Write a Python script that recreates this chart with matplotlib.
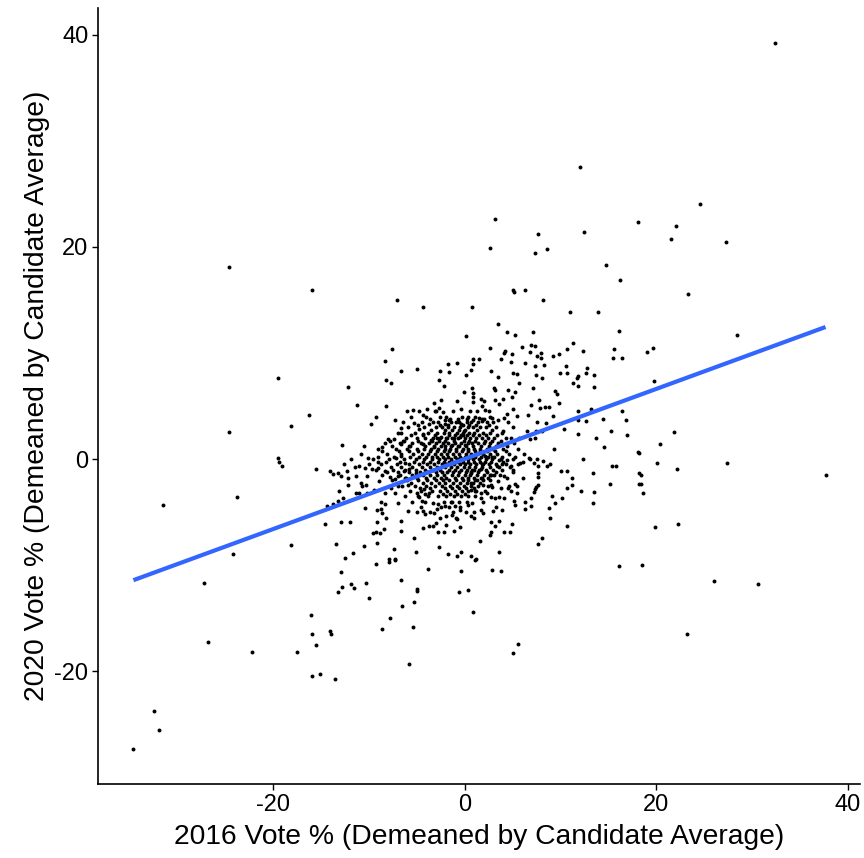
import numpy as np
import matplotlib
matplotlib.use("Agg")
import matplotlib.pyplot as plt
from matplotlib import font_manager

# points, grouped by area of the plot
upper_pts = [(-24.6, 18.1), (-15.9, 15.9), (-7.1, 15.0), (-4.3, 14.3), (0.8, 14.3), (0.1, 11.6),
             (32.4, 39.2), (12.1, 27.5), (24.6, 24.0), (3.2, 22.6), (18.1, 22.3), (22.1, 22.0),
             (21.6, 20.7), (27.3, 20.5), (7.7, 21.2), (12.5, 21.4), (2.7, 19.9), (7.3, 19.4),
             (8.6, 19.8), (14.8, 18.3), (16.2, 16.9), (5.1, 15.9), (5.2, 15.7), (6.3, 15.9),
             (8.2, 15.0), (23.3, 15.6), (11.0, 13.9), (13.9, 13.9), (3.5, 12.7), (4.4, 12.0),
             (5.3, 11.7), (7.1, 12.0), (16.1, 12.1), (28.4, 11.7)]

left_pts = [(-19.5, 7.6), (-18.1, 3.1), (-24.6, 2.6), (-19.5, 0.1), (-19.4, -0.3), (-19.1, -0.6),
            (-23.75, -3.6), (-31.5, -4.3), (-18.1, -8.1), (-24.2, -8.9), (-27.2, -11.7),
            (-26.8, -17.2), (-22.2, -18.2), (-17.5, -18.2), (-32.4, -23.7), (-31.9, -25.5),
            (-34.6, -27.3)]

right_pts = [(19.0, 10.1), (19.7, 10.5), (19.8, 7.4), (21.9, 2.6), (20.4, 1.4), (18.2, 0.6),
             (20.1, -0.4), (22.2, -0.9), (27.4, -0.4), (37.7, -1.5), (18.4, -1.5), (18.4, -2.3),
             (18.6, -3.2), (19.9, -6.4), (22.3, -6.1), (18.5, -10.0), (26.0, -11.5),
             (30.6, -11.8), (23.2, -16.5)]

lower_pts = [(16.1, -10.1), (-12.95, -10.6), (-9.3, -9.9), (-7.9, -9.7), (-7.3, -9.5), (-3.8, -10.3),
             (-0.4, -10.5), (1.1, -9.5), (2.9, -10.4), (3.8, -10.5), (-12.8, -12.0), (-11.9, -11.8),
             (-11.6, -12.1), (-13.2, -12.5), (-10.3, -11.7), (-10.0, -13.1), (-6.6, -11.4),
             (-5.0, -12.2), (-5.0, -12.4), (-0.6, -12.5), (0.3, -12.3), (-6.5, -13.8), (-5.3, -13.5),
             (0.9, -14.4), (-16.1, -14.7), (-7.8, -15.0), (-15.9, -16.5), (-15.5, -17.5),
             (-14.1, -16.2), (-14.0, -16.5), (-8.6, -16.0), (-5.4, -15.8), (5.6, -17.4), (5.1, -18.3),
             (-5.8, -19.3), (-15.9, -20.4), (-15.1, -20.2), (-13.5, -20.7)]

ul_pts = [(-7.6, 10.4), (-8.3, 9.2), (-1.7, 9.0), (-0.8, 9.1), (-6.6, 8.3), (-5.0, 8.5), (-2.6, 8.3),
          (-1.6, 8.2), (0.1, 7.9), (-8.2, 7.5), (-7.7, 7.2), (-2.7, 7.5), (-2.2, 6.9), (-12.2, 6.8),
          (-0.1, 6.3), (-16.3, 4.2), (-11.2, 5.1), (-8.2, 5.0), (-3.2, 5.3), (-2.5, 5.6), (-0.8, 5.5),
          (-5.4, 4.6), (-3.9, 4.7), (-2.7, 4.8), (-2.3, 4.4), (-0.4, 4.7), (-4.3, 4.2), (-3.0, 4.5),
          (-9.3, 4.0), (-7.3, 3.7), (-5.3, 3.4), (-3.7, 3.3), (-2.1, 3.7), (-2.0, 3.3), (-1.6, 3.7),
          (-0.6, 3.5), (-9.8, 3.3), (-6.7, 2.9), (-4.8, 2.8), (-1.7, 3.0), (-0.4, 3.3), (-6.6, 2.5),
          (-4.4, 2.4), (-0.1, 2.7), (-8.0, 1.9), (-7.4, 1.9), (-6.3, 1.7), (-7.8, 1.7), (-3.5, 1.8),
          (-2.9, 2.0), (-2.5, 2.1), (-1.8, 2.0), (-1.1, 1.95), (-0.5, 2.05), (-0.2, 2.3), (-12.8, 1.3),
          (-10.5, 1.25), (-8.6, 1.1), (-6.6, 1.4), (-5.7, 1.2), (-4.4, 1.4), (-3.2, 1.1), (-2.1, 1.2),
          (-1.35, 1.3), (-0.7, 1.2), (0.0, 1.3)]

ur_pts = [(2.7, 10.5), (6.0, 10.6), (6.9, 10.8), (7.4, 10.7), (4.2, 10.2), (4.1, 10.0), (4.9, 9.9),
          (6.8, 10.1), (7.6, 9.75), (8.0, 9.96), (8.0, 9.56), (9.2, 9.75), (9.9, 9.9), (10.7, 10.4),
          (11.3, 10.9), (12.4, 10.2), (15.6, 10.4), (15.5, 9.56), (16.4, 9.56), (0.9, 9.4), (1.5, 9.4),
          (0.9, 9.0), (3.8, 9.4), (4.8, 9.15), (6.35, 9.06), (7.3, 8.8), (8.3, 8.9), (10.6, 8.8),
          (12.8, 8.6), (0.7, 8.4), (2.8, 8.3), (5.1, 8.1), (5.5, 8.0), (7.5, 7.95), (10.0, 8.1),
          (10.7, 8.1), (11.8, 7.8), (12.7, 8.1), (13.5, 7.9), (3.5, 7.7), (8.05, 7.6), (11.7, 7.6),
          (5.7, 7.2), (11.35, 7.2), (11.8, 6.9), (0.8, 6.7), (13.5, 6.8), (3.05, 6.7), (3.2, 6.5),
          (4.5, 6.5), (5.3, 6.3), (7.1, 6.7), (9.4, 6.4), (9.7, 6.1), (0.9, 6.2), (0.9, 5.9), (1.7, 5.7),
          (2.0, 5.5), (3.2, 5.6), (4.0, 5.7), (4.9, 5.85), (3.6, 5.2), (7.8, 5.6), (6.9, 5.1),
          (9.9, 5.25), (0.9, 5.35), (7.9, 4.8), (8.4, 4.9), (8.85, 4.9), (1.8, 5.0), (2.1, 4.6),
          (2.5, 4.5), (4.4, 4.3), (5.0, 4.75), (11.8, 4.5), (13.2, 4.7), (16.4, 4.5), (5.5, 4.1),
          (6.6, 4.15), (9.2, 4.1), (1.5, 3.9), (2.05, 3.8), (2.9, 3.9), (4.1, 3.9), (12.7, 3.6),
          (14.5, 3.8), (16.9, 3.7), (0.9, 3.7), (1.8, 3.55), (2.3, 3.5), (3.0, 3.5), (3.5, 3.7),
          (4.5, 3.5), (7.6, 3.5), (8.5, 3.4), (11.8, 3.7), (10.4, 2.8), (15.3, 2.7), (13.75, 1.95),
          (14.6, 1.1), (17.0, 2.3), (11.8, 2.4), (9.3, 1.0), (6.5, 2.7), (7.5, 2.7), (8.1, 2.7),
          (4.8, 2.0), (5.7, 1.95), (6.8, 1.9), (7.3, 2.0), (4.0, 2.7), (5.0, 3.0)]

ll_pts = [(-15.5, -0.9), (-14.1, -1.1), (-13.8, -1.4), (-13.2, -1.3), (-12.9, -1.6), (-12.3, -1.1),
          (-11.5, -0.7), (-11.0, -0.6), (-10.4, -0.8), (-10.0, -0.5), (-9.7, -0.9), (-10.1, 0.1),
          (-9.1, -0.3), (-9.1, -0.8), (-12.2, -1.8), (-11.3, -1.6), (-10.2, -1.6), (-10.8, -2.2),
          (-10.3, -2.4), (-10.7, -2.55), (-12.2, -2.4), (-13.1, -3.0), (-12.7, -3.7), (-13.2, -3.9),
          (-13.75, -4.2), (-14.4, -4.4), (-11.4, -3.2), (-11.0, -3.2), (-10.2, -3.2), (-9.5, -2.9),
          (-8.9, -2.1), (-8.3, -1.1), (-7.8, -1.7), (-7.3, -1.9), (-7.0, -1.6), (-7.15, 0.07),
          (-6.6, 0.3), (-6.2, -0.35), (-6.35, -1.1), (-5.8, -0.9), (-5.1, -1.35), (-6.1, -1.8),
          (-7.0, -2.55), (-7.7, -2.7), (-5.9, -2.45), (-7.3, -3.2), (-8.3, -3.2), (-8.7, -4.0),
          (-8.3, -4.2), (-7.0, -4.1), (-10.4, -4.6), (-9.2, -4.8), (-8.6, -5.1), (-8.2, -5.5),
          (-8.7, -4.65), (-5.9, -4.9), (-6.7, -5.8), (-5.0, -3.2), (-4.8, -3.6), (-4.5, -3.9),
          (-4.2, -2.8), (-3.7, -3.2), (-3.3, -4.1), (-2.8, -4.2), (-2.9, -4.65), (-4.3, -4.9),
          (-3.2, -5.1), (-4.1, -5.2), (-2.1, -4.4), (-1.4, -4.0), (-1.0, -4.4), (-0.45, -4.8),
          (-1.3, -5.3), (-0.8, -5.6), (-1.9, -5.4), (-14.6, -6.1), (-12.9, -5.9), (-12.0, -5.9),
          (-9.2, -5.9), (-6.7, -6.8), (-9.55, -7.0), (-9.3, -6.9), (-8.4, -6.6), (-8.8, -6.95),
          (-5.3, -7.45), (-4.4, -6.5), (-3.7, -6.3), (-3.3, -6.3), (-2.95, -6.0), (-2.8, -6.9),
          (-2.2, -6.9), (-1.95, -6.2), (-1.15, -6.8), (-0.5, -6.4), (-9.2, -7.9), (-13.4, -8.0),
          (-10.5, -8.2), (-7.4, -8.5), (-5.1, -8.7), (-2.7, -8.3), (-1.7, -8.9), (-0.8, -9.1),
          (-0.4, -8.7), (-12.5, -9.3), (-11.7, -8.8), (-7.9, -9.4), (-7.3, -9.4)]

lr_pts = [(12.4, 0.0), (15.4, -0.6), (15.8, -0.6), (13.4, -1.3), (10.1, -1.1), (10.65, -1.1),
          (11.2, -1.8), (10.65, -2.7), (11.2, -2.45), (15.2, -2.3), (12.2, -3.0), (13.5, -3.1),
          (10.2, -3.65), (9.1, -3.5), (9.4, -4.15), (13.4, -4.15), (8.85, -4.6), (8.95, -5.5),
          (10.65, -6.3), (7.6, 0.06), (8.2, -0.2), (8.6, -0.66), (8.9, -0.5), (7.2, -0.4), (7.7, -0.66),
          (7.7, -1.3), (7.7, -1.7), (7.7, -2.4), (7.5, -2.6), (7.3, -2.8), (7.2, -3.1), (6.9, -3.65),
          (6.9, -4.4), (6.3, -4.0), (6.3, -4.65), (5.8, -0.4), (6.1, -1.8), (5.3, -2.3), (5.5, -2.5),
          (5.1, -1.25), (4.8, -0.6), (4.4, -0.1), (3.9, -0.5), (3.6, -0.1), (3.4, -0.6), (2.9, 0.2),
          (2.1, 0.3), (1.9, -0.5), (1.7, -0.9), (1.0, -1.0), (0.65, -1.35), (3.1, -1.5), (2.6, -1.5),
          (4.1, -1.6), (4.4, -1.8), (3.5, -2.1), (1.8, -1.8), (1.3, -2.0), (0.65, -2.2), (1.9, -2.4),
          (2.75, -2.4), (2.9, -2.6), (3.8, -2.7), (4.65, -2.5), (4.55, -2.7), (4.8, -3.0), (5.5, -3.2),
          (5.2, -3.9), (5.3, -4.3), (4.1, -3.65), (3.6, -3.55), (3.2, -3.7), (2.75, -3.55), (2.3, -3.2),
          (1.7, -3.2), (1.1, -3.0), (0.65, -2.9), (1.7, -3.7), (1.9, -4.0), (0.8, -4.1), (0.4, -4.3),
          (1.0, -5.0), (0.65, -5.35), (1.0, -5.5), (1.7, -4.8), (1.9, -5.1), (3.0, -4.9), (3.3, -4.5),
          (3.9, -4.75), (2.8, -5.9), (3.2, -6.3), (3.6, -5.85), (2.75, -6.85), (2.6, -7.1), (4.1, -6.9),
          (4.75, -6.9), (4.9, -6.1), (1.6, -7.7), (3.6, -8.7), (8.1, -7.4), (7.7, -7.95), (0.65, -9.15),
          (1.15, -9.4), (18.2, -1.3), (18.2, -2.3), (18.1, 0.7), (6.7, 0.07)]

# dense core, too crowded to read one by one: rows of 2020 value with their 2016 values
core_rows = [
    (4.5, [-6.0, -4.8, -3.1, -1.2, 0.6, 1.3]),
    (4.0, [-5.6, -4.0, -2.6, -1.9, -0.3, 0.4, 1.1, 2.6]),
    (3.75, [-3.6, -1.5, -0.7, 0.2, 1.8]),
    (3.5, [-6.4, -4.5, -3.3, -2.8, -1.4, -0.9, 0.2, 0.7, 1.4]),
    (3.2, [-4.9, -2.6, -1.7, -0.2, 0.5, 1.2, 2.5]),
    (3.0, [-5.9, -4.2, -3.0, -2.4, -1.1, -0.5, 0.3, 0.9, 1.6, 2.2, 3.3]),
    (2.75, [-3.5, -2.0, -1.3, -0.6, 0.0, 1.3, 2.9]),
    (2.5, [-7.0, -5.2, -3.8, -2.9, -2.2, -1.6, -0.8, -0.2, 0.5, 1.0, 1.9, 2.6, 3.9]),
    (2.25, [-5.6, -4.4, -3.1, -1.6, -1.0, -0.4, 0.2, 0.9, 1.5, 2.2, 3.4]),
    (2.0, [-6.1, -5.0, -4.1, -3.3, -2.6, -1.9, -1.3, -0.7, 0.0, 0.6, 1.2, 1.8, 2.4, 3.1, 4.3]),
    (1.75, [-6.4, -4.9, -3.4, -2.7, -2.0, -1.1, -0.1, 0.5, 1.1, 2.1, 2.9, 3.8]),
    (1.5, [-8.3, -6.8, -5.5, -4.6, -3.7, -3.0, -2.3, -1.7, -1.0, -0.4, 0.3, 0.8, 1.4, 2.0, 2.7, 3.5, 5.2]),
    (1.25, [-7.6, -5.8, -4.1, -3.2, -2.5, -1.4, -0.6, 0.1, 0.9, 1.7, 2.5, 3.3, 4.4]),
    (1.0, [-9.0, -7.2, -6.0, -5.0, -4.2, -3.5, -2.8, -2.0, -1.5, -0.9, -0.2, 0.4, 1.0, 1.6, 2.3, 3.0, 4.0, 5.6]),
    (0.75, [-8.6, -6.9, -5.8, -4.9, -3.6, -2.9, -2.2, -1.6, -0.9, -0.3, 0.4, 1.1, 1.6, 2.3, 3.2, 4.3]),
    (0.5, [-10.8, -8.1, -6.6, -5.4, -4.5, -3.8, -3.1, -2.5, -1.8, -1.2, -0.6, 0.1, 0.7, 1.3, 1.9, 2.6, 3.4, 4.6, 6.2]),
    (0.25, [-9.1, -7.4, -5.7, -4.8, -4.0, -3.4, -2.9, -2.3, -1.7, -1.0, -0.5, 0.0, 0.6, 1.1, 1.7, 2.4, 3.1, 3.9, 5.3]),
    (0.0, [-11.9, -9.6, -7.9, -6.3, -5.1, -4.2, -3.4, -2.7, -2.1, -1.4, -0.8, -0.3, 0.3, 0.9, 1.5, 2.2, 2.9, 3.8, 5.0, 6.8]),
    (-0.25, [-8.2, -6.8, -5.3, -4.4, -3.6, -2.8, -2.2, -1.6, -1.2, -0.7, -0.2, 0.4, 1.0, 1.6, 2.1, 2.8, 4.0, 6.1]),
    (-0.5, [-12.6, -8.7, -7.1, -5.8, -4.8, -3.9, -3.2, -2.4, -1.9, -1.1, -0.5, 0.0, 0.6, 1.2, 1.8, 2.5, 3.3, 4.3, 5.6]),
    (-0.75, [-7.7, -6.6, -5.5, -4.5, -3.6, -2.9, -2.1, -1.4, -0.8, -0.1, 0.5, 1.1, 1.8, 2.6, 3.6, 4.7]),
    (-1.0, [-9.3, -7.5, -6.2, -5.1, -4.1, -3.3, -2.6, -1.6, -1.0, -0.4, 0.2, 0.8, 1.5, 2.2, 3.0, 3.9, 5.1]),
    (-1.25, [-8.1, -7.0, -5.8, -4.7, -3.9, -3.0, -2.4, -1.8, -1.2, -0.6, 0.1, 0.7, 1.4, 2.3, 3.3]),
    (-1.5, [-8.6, -6.8, -5.5, -4.4, -3.6, -2.9, -2.2, -1.3, -0.7, 0.0, 0.6, 1.3, 2.0, 2.8, 3.7]),
    (-1.75, [-6.2, -5.0, -4.0, -3.2, -2.5, -1.9, -1.0, -0.3, 0.3, 1.0, 1.7, 2.4]),
    (-2.0, [-7.6, -6.0, -4.9, -3.9, -3.0, -2.3, -1.6, -0.9, -0.2, 0.4, 1.1, 1.9, 2.6]),
    (-2.25, [-5.6, -4.4, -3.5, -2.7, -2.0, -1.2, -0.5, 0.2, 0.9, 1.6]),
    (-2.5, [-6.5, -5.2, -4.0, -3.1, -2.4, -1.5, -0.8, -0.1, 0.7, 1.4, 2.4]),
    (-2.75, [-4.7, -3.6, -2.0, -1.3, -0.6, 0.1, 1.0]),
    (-3.0, [-5.7, -4.6, -3.4, -2.6, -1.8, -1.0, -0.3, 0.4, 1.2, 2.1]),
    (-3.25, [-4.1, -2.3, -1.5, -0.8, 0.0]),
    (-3.5, [-6.2, -4.9, -3.8, -2.8, -1.9, -1.1, -0.4, 0.3, 1.1]),
    (-4.0, [-5.5, -4.1, -2.2, -1.3, -0.6, 0.2]),
    (-4.5, [-4.6, -2.5, -1.6, -0.5]),
    (-5.0, [-5.0, -3.6, -1.2, 0.1]),
    (-5.5, [-2.6, -0.9]),
]

# linear fit line (geom_smooth lm), ends
fit_x = [-34.6, 37.7]
fit_y = [-11.4, 12.45]

x_ticks = [-20, 0, 20, 40]
y_ticks = [-20, 0, 20, 40]
x_label = "2016 Vote % (Demeaned by Candidate Average)"
y_label = "2020 Vote % (Demeaned by Candidate Average)"

names = {f.name for f in font_manager.fontManager.ttflist}
if "Liberation Sans Narrow" in names:
    plt.rcParams['font.family'] = ['Liberation Sans Narrow', 'DejaVu Sans']
    title_size = 23
else:
    plt.rcParams['font.family'] = ['Liberation Sans', 'DejaVu Sans']
    title_size = 20.3

pts = upper_pts + left_pts + right_pts + lower_pts + ul_pts + ur_pts + ll_pts + lr_pts
for yv, xs in core_rows:
    pts += [(xv, yv) for xv in xs]
pts = np.array(pts)

fig = plt.figure(figsize=(8.64, 8.58), dpi=100)
ax = fig.add_axes([98 / 864, 1 - 784 / 858, 762 / 864, 776 / 858])

ax.scatter(pts[:, 0], pts[:, 1], s=8, color='black', linewidths=0, zorder=2)
ax.plot(fit_x, fit_y, color='#3366FF', lw=3, solid_capstyle='butt', zorder=3)

ax.set_xlim(-38.3, 41.3)
ax.set_ylim(-30.6, 42.5)
ax.set_xticks(x_ticks)
ax.set_yticks(y_ticks)
ax.set_xticklabels([str(v) for v in x_ticks])
ax.set_yticklabels([str(v) for v in y_ticks])

for side in ['top', 'right']:
    ax.spines[side].set_visible(False)
for side in ['left', 'bottom']:
    ax.spines[side].set_linewidth(1.2)
    ax.spines[side].set_color('black')
ax.tick_params(direction='out', length=4, width=1.0, colors='black', labelsize=17, pad=3)

ax.set_xlabel(x_label, fontsize=title_size, labelpad=6)
ax.set_ylabel(y_label, fontsize=title_size, labelpad=3)

fig.savefig('out.png', dpi=100, facecolor='white')
